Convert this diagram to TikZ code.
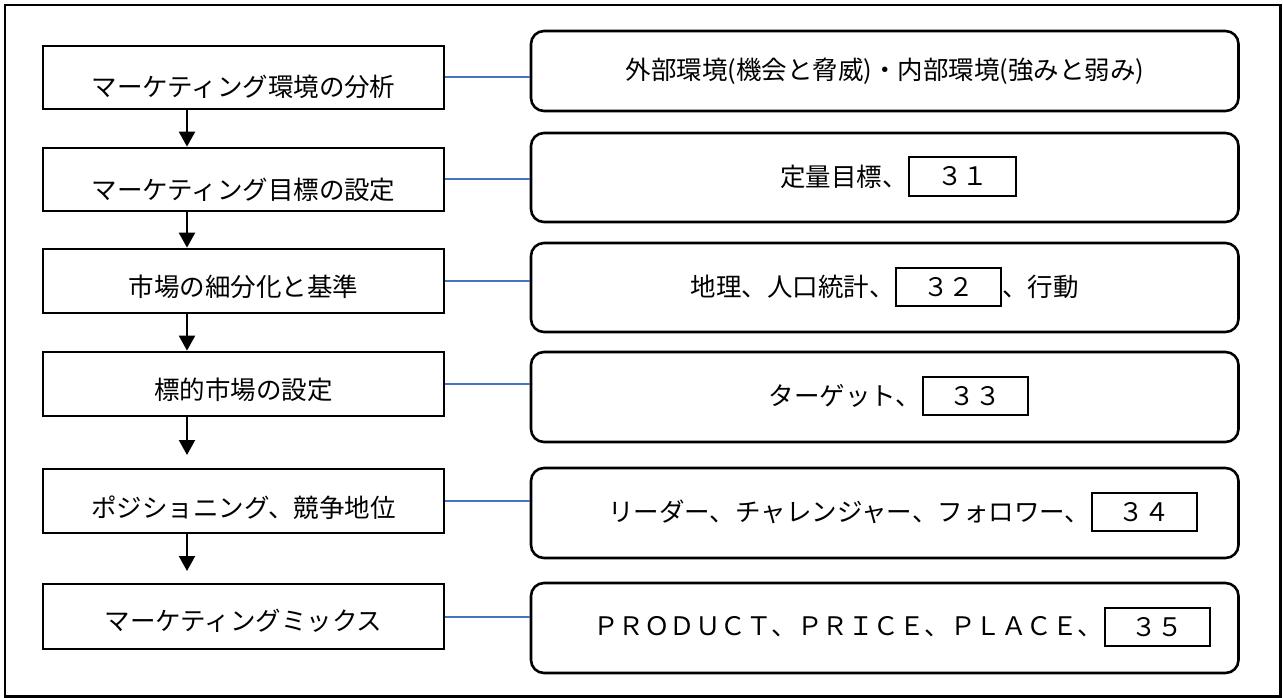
\documentclass[tikz,border=0pt]{standalone}
\usepackage{fontspec}
\setmainfont{Noto Sans CJK JP}
\usetikzlibrary{arrows.meta}
\definecolor{linkblue}{RGB}{68,114,196}
\newcommand{\fs}{\fontsize{25.5}{30}\selectfont}
\begin{document}
\begin{tikzpicture}[x=1pt,y=-1pt,
  leftbox/.style={draw, line width=2.7pt, minimum width=401pt, minimum height=63pt, inner sep=0pt},
  rightbox/.style={draw, rounded corners=13pt, line width=2.6pt, minimum width=707.5pt, inner sep=0pt},
  ansbox/.style={draw, line width=2pt, minimum width=105pt, minimum height=38pt, inner sep=0pt, font=\fs},
  txt/.style={inner sep=0pt, font=\fs},
  link/.style={draw=linkblue, line width=2pt},
  flow/.style={line width=2.2pt, -{Triangle[width=16pt,length=15pt]}}]
\useasboundingbox (0,0) rectangle (1283,698);
\draw[line width=2.2pt] (5,5) rectangle (1280.5,696.5);

% left boxes
\node[leftbox] (L1) at (243.5,77.5) {};
\node[leftbox] (L2) at (243.5,179.5) {};
\node[leftbox, minimum height=64pt] (L3) at (243.5,281) {};
\node[leftbox, minimum height=64pt] (L4) at (243.5,384) {};
\node[leftbox, minimum height=64pt] (L5) at (243.5,501) {};
\node[leftbox, minimum height=65pt] (L6) at (243.5,616.5) {};

\node[txt] (T1) at (243.5,86.5) {マーケティング環境の分析};
\node[txt] (T2) at (243.5,190) {マーケティング目標の設定};
\node[txt] (T3) at (243.5,286.5) {市場の細分化と基準};
\node[txt] (T4) at (243.5,390) {標的市場の設定};
\node[txt] (T5) at (243.5,508) {ポジショニング、競争地位};
\node[txt] (T6) at (243.5,621) {マーケティングミックス};

% arrows
\coordinate (ax) at (187,0);
\coordinate (e45) at (187,455);
\coordinate (e56) at (187,571);
\draw[flow] (L1.south -| ax) -- (L2.north -| ax);
\draw[flow] (L2.south -| ax) -- (L3.north -| ax);
\draw[flow] (L3.south -| ax) -- (L4.north -| ax);
\draw[flow] (L4.south -| ax) -- (e45);
\draw[flow] (L5.south -| ax) -- (e56);

% right boxes
\node[rightbox, minimum height=80pt] (R1) at (884.75,71) {};
\node[rightbox, minimum height=89pt] (R2) at (884.75,177.5) {};
\node[rightbox, minimum height=89pt] (R3) at (884.75,287.5) {};
\node[rightbox, minimum height=90pt] (R4) at (884.75,397) {};
\node[rightbox, minimum height=90pt] (R5) at (884.75,513) {};
\node[rightbox, minimum height=90pt] (R6) at (884.75,628) {};

% links
\draw[link] (L1.east) -- (L1.east -| R1.west);
\draw[link] (L2.east) -- (L2.east -| R2.west);
\draw[link] (L3.east) -- (L3.east -| R3.west);
\draw[link] (L4.east) -- (L4.east -| R4.west);
\draw[link] (L5.east) -- (L5.east -| R5.west);
\draw[link] (L6.east) -- (L6.east -| R6.west);

% right contents
\node[txt] (S1) at (885,71.5) {外部環境(機会と脅威)・内部環境(強みと弱み)};

\node[ansbox, minimum width=107pt, minimum height=39pt] (A31) at (962.5,176.5) {３１};
\node[txt, anchor=east] (S2) at (A31.west) {定量目標、};

\node[ansbox] (A32) at (948.5,287) {３２};
\node[txt, anchor=east] (S3a) at (A32.west) {地理、人口統計、};
\node[txt, anchor=west] (S3b) at (A32.east) {、行動};

\node[ansbox] (A33) at (975,396) {３３};
\node[txt, anchor=east] (S4) at (A33.west) {ターゲット、};

\node[ansbox] (A34) at (1144,512) {３４};
\node[txt, anchor=east] (S5) at (A34.west) {リーダー、チャレンジャー、フォロワー、};

\node[ansbox] (A35) at (1157,627) {３５};
\node[txt, anchor=east] (S6) at (A35.west) {ＰＲＯＤＵＣＴ、ＰＲＩＣＥ、ＰＬＡＣＥ、};
\end{tikzpicture}
\end{document}
